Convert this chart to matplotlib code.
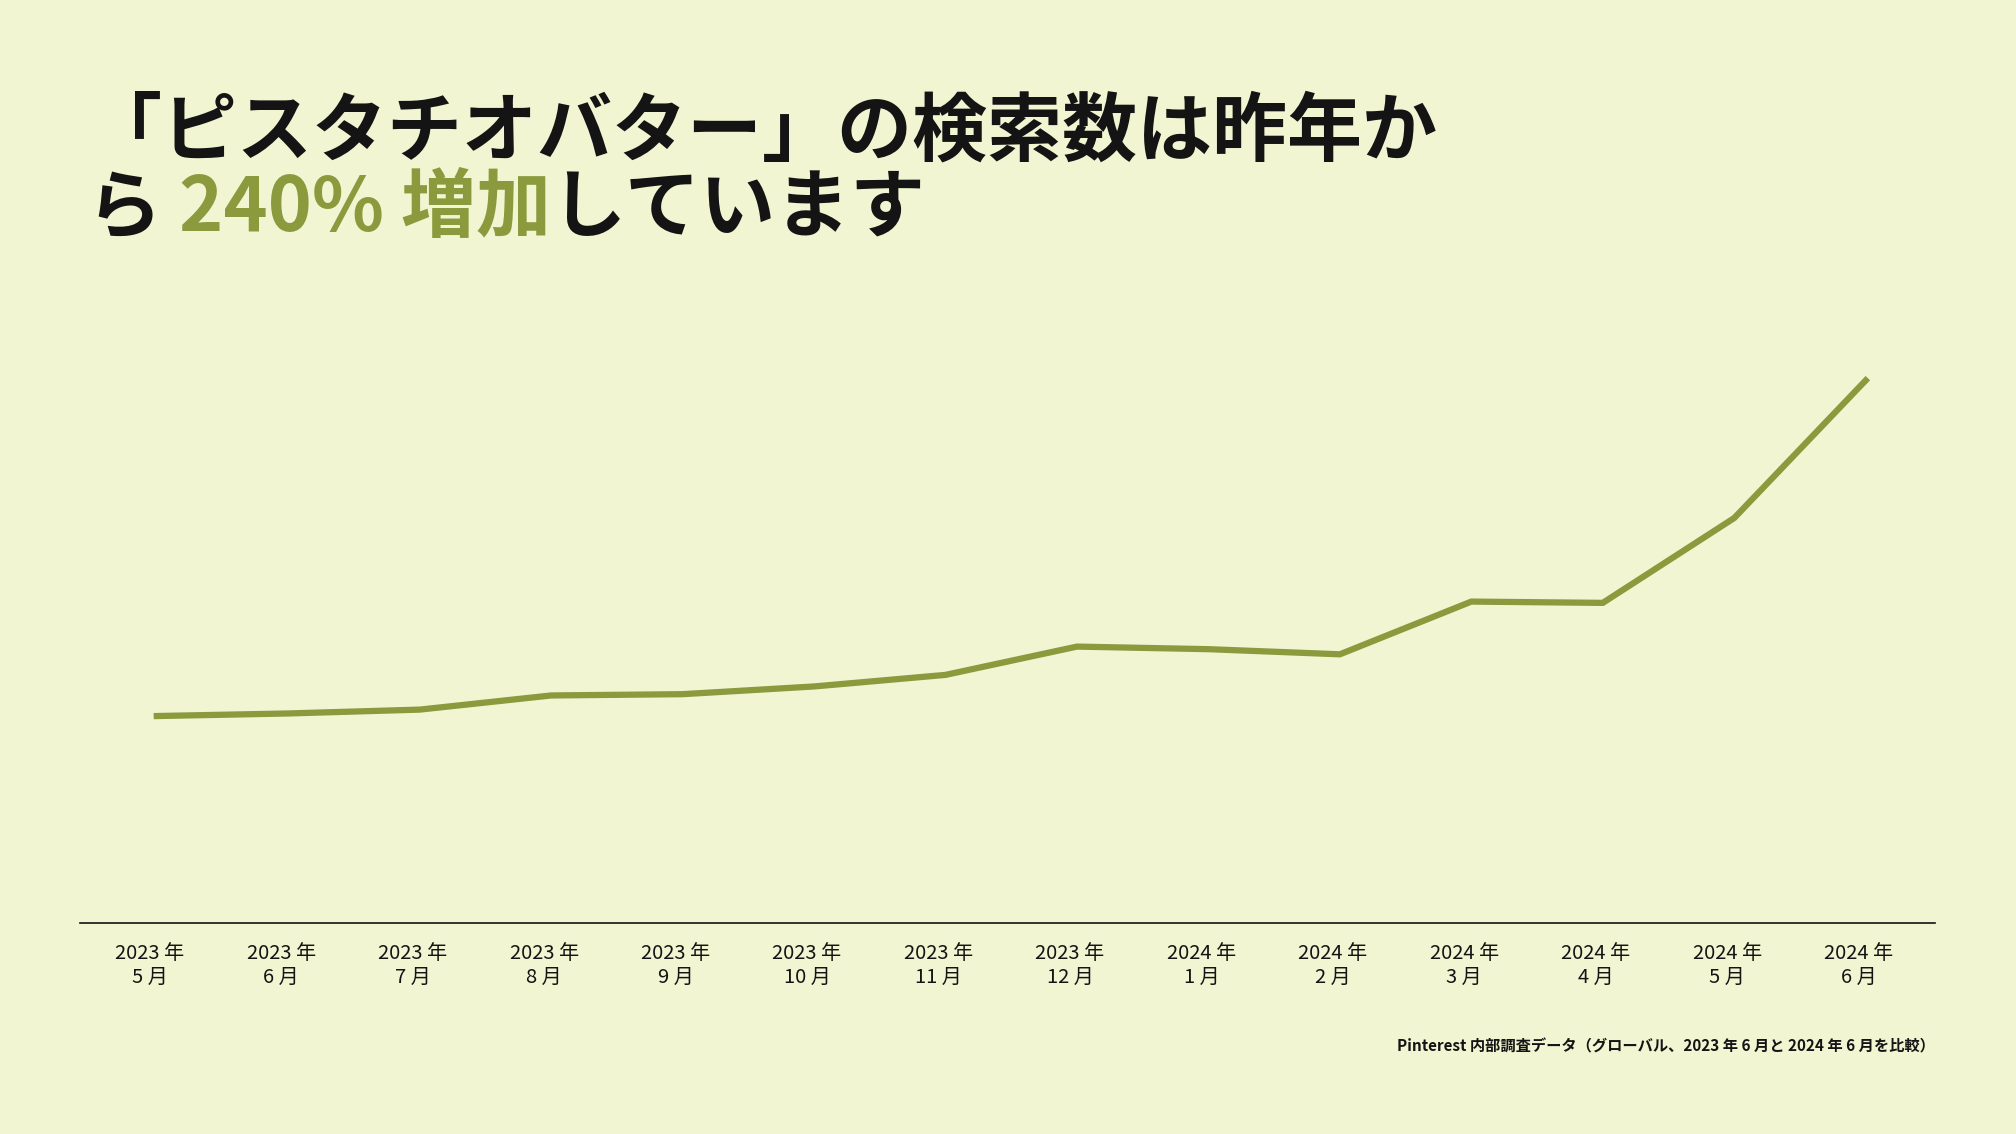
import matplotlib
matplotlib.use("Agg")
import matplotlib.pyplot as plt
import matplotlib.transforms as mtransforms

plt.rcParams['font.family'] = ['Noto Sans CJK JP', 'DejaVu Sans']

months = ["2023年\n5月","2023年\n6月","2023年\n7月","2023年\n8月","2023年\n9月","2023年\n10月","2023年\n11月",
          "2023年\n12月","2024年\n1月","2024年\n2月","2024年\n3月","2024年\n4月","2024年\n5月","2024年\n6月"]
values = [161, 163, 166, 177, 178, 184, 193, 215, 213, 209, 250, 249, 315, 422]

BG = "#F1F5D2"
GREEN = "#8A9A3C"
DARK = "#141414"

fig = plt.figure(figsize=(20.16, 11.34), dpi=100, facecolor=BG)
ax = fig.add_axes([0.0395, 0.186, 0.9205, 0.567], facecolor=BG)
x = list(range(len(values)))
ax.plot(x, values, color=GREEN, lw=4.5, solid_joinstyle='miter')
ax.set_ylim(0, 500)
ax.set_xlim(-0.587, 13.53)
for s in ['top', 'right', 'left']:
    ax.spines[s].set_visible(False)
ax.spines['bottom'].set_color(DARK)
ax.spines['bottom'].set_linewidth(1.2)
ax.set_yticks([])
ax.set_xticks(x)
ax.set_xticklabels([m.replace("年", " 年").replace("月", " 月") for m in months], fontsize=14.5, color=DARK, linespacing=1.2)
ax.tick_params(axis='x', length=0, pad=14)
off = mtransforms.ScaledTranslation(-7/100, 0, fig.dpi_scale_trans)
for lbl in ax.get_xticklabels():
    lbl.set_transform(lbl.get_transform() + off)

t1 = fig.text(0.043, 1 - 120/882, "「ピスタチオバター」の検索数は昨年か", fontsize=54, weight='bold', color=DARK, va='baseline')
a = fig.text(0.043, 1 - 180/882, "ら ", fontsize=54, weight='bold', color=DARK, va='baseline')
b = ax.annotate("240% 増加", xy=(1, 0), xycoords=a, fontsize=54, weight='bold', color=GREEN, va='bottom', ha='left', annotation_clip=False)
c = ax.annotate("しています", xy=(1, 0), xycoords=b, fontsize=54, weight='bold', color=DARK, va='bottom', ha='left', annotation_clip=False)

fig.text(1505/1568, 1 - 814/882, "Pinterest 内部調査データ（グローバル、2023 年 6 月と 2024 年 6 月を比較）",
         fontsize=11, weight='bold', color=DARK, ha='right', va='center')

fig.savefig("out.png", dpi=100, facecolor=BG)
